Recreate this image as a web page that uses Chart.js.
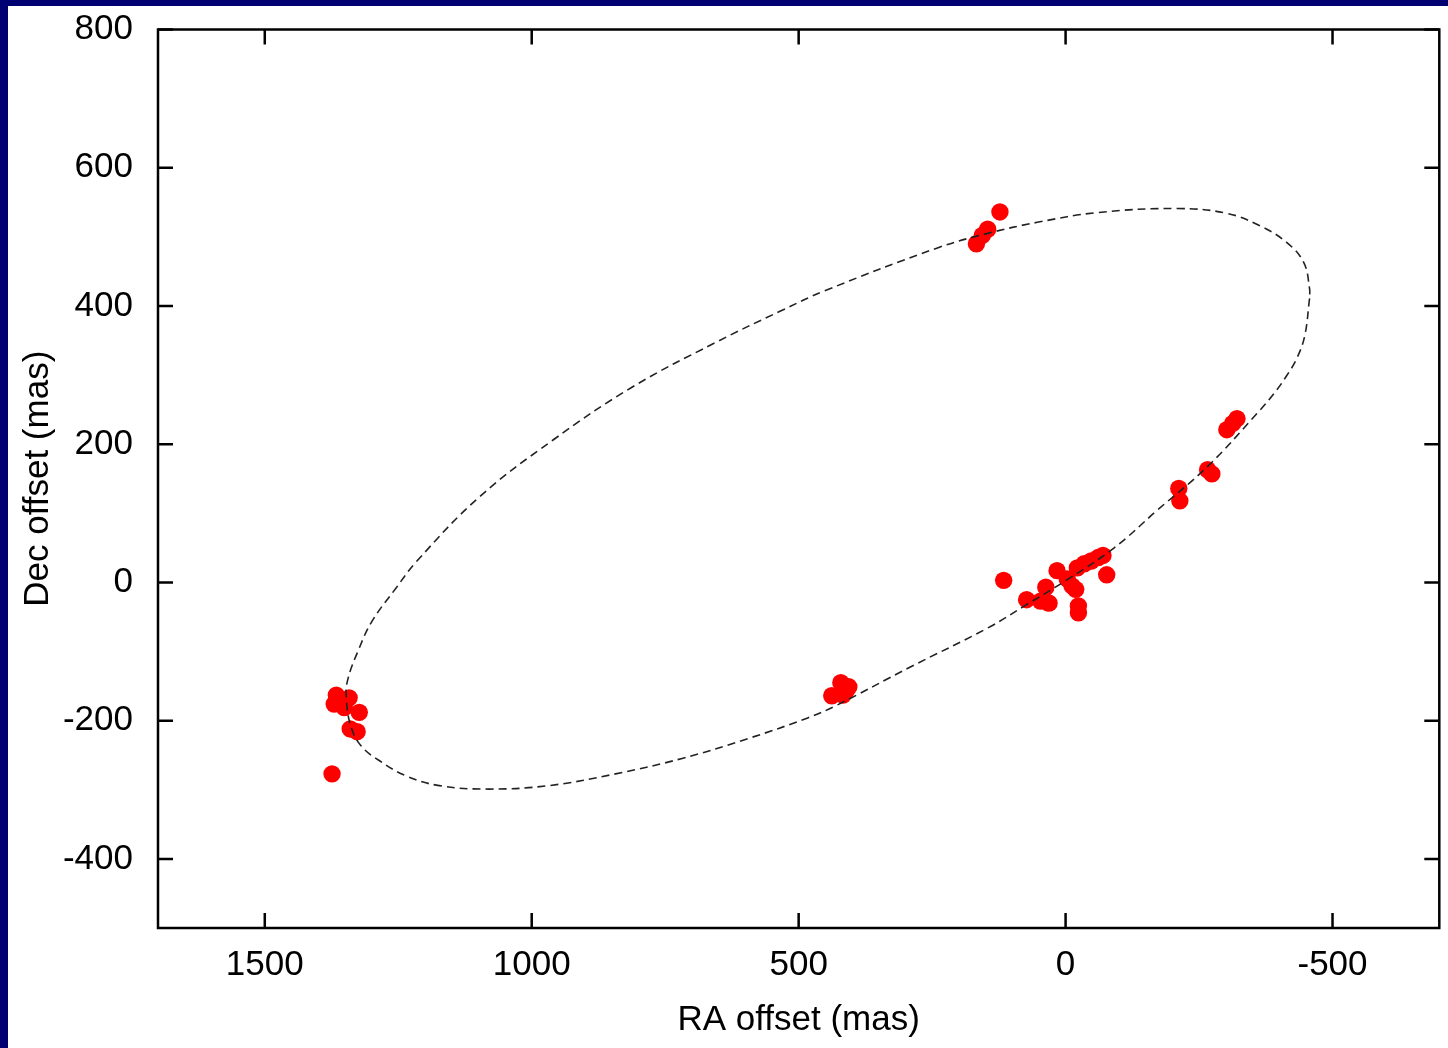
<!DOCTYPE html>
<html>
<head>
<meta charset="utf-8">
<script src="https://cdn.jsdelivr.net/npm/chart.js@4"></script>
<style>
  html, body { margin: 0; padding: 0; }
  body { width: 1448px; height: 1048px; background: #000072; position: relative; overflow: hidden; }
  #painel { position: absolute; left: 8px; top: 6px; width: 1440px; height: 1042px; background: #fff; }
</style>
</head>
<body>
<div id="painel"><canvas id="orbita" width="1440" height="1042"></canvas></div>
<script>
// measured positions (mas)
const raPontos = [123, 167, 156, 146,
  -302, -313, -321, -266, -274, -212, -214,
  116, 73, 37, 34, 47, 31, 16, -19, -24, -24, -77, -22, -35, -48, -61, -70, -3, -12,
  438, 421, 406, 417, 411,
  1370, 1366, 1342, 1351, 1323, 1327, 1340, 1374];
const decPontos = [536, 490, 502, 511,
  221, 230, 237, 163, 157, 136, 118,
  3, -25, -7, -29, -27, -30, 17, -10, -34, -44, 11, 21, 27, 31, 36, 39, 5, -5,
  -164, -145, -151, -163, -157,
  -176, -163, -167, -181, -188, -216, -212, -277];

// fitted orbit (dashed)
const orbitaRA = [-457, -448, -433, -414, -390, -358, -265, -171, -91, 1, 77, 146, 290, 432, 483, 595, 720, 843, 968, 1080,
  1173, 1235, 1285, 1319, 1338, 1347, 1345, 1323, 1299, 1254, 1215, 1099, 962, 813, 656, 533, 451, 240, 146, 53, -59,
  -209, -302, -364, -414, -446, -457, -457];
const orbitaDec = [411, 357, 324, 299, 273, 244, 167, 104, 50, 2, -34, -66, -122, -179, -196, -226, -255, -277, -294, -299,
  -294, -280, -258, -237, -210, -171, -142, -95, -56, -8, 31, 123, 205, 282, 347, 393, 422, 484, 505, 521, 535,
  541, 534, 516, 492, 463, 425, 411];

const raTicks = [1500, 1000, 500, 0, -500];
const decTicks = [800, 600, 400, 200, 0, -200, -400];

Chart.defaults.font.family = '"Liberation Sans", Arial, sans-serif';
Chart.defaults.color = '#000';

// box + inward ticks on all four sides
const moldura = {
  id: 'moldura',
  afterDatasetsDraw(chart) {
    const ctx = chart.ctx;
    const a = chart.chartArea;
    const sx = chart.scales.x, sy = chart.scales.y;
    ctx.save();
    ctx.strokeStyle = '#000';
    ctx.lineWidth = 2.5;
    ctx.beginPath();
    sx.ticks.forEach(function (t) {
      const px = sx.getPixelForValue(t.value);
      ctx.moveTo(px, a.bottom); ctx.lineTo(px, a.bottom - 15);
      ctx.moveTo(px, a.top); ctx.lineTo(px, a.top + 15);
    });
    sy.ticks.forEach(function (t) {
      const py = sy.getPixelForValue(t.value);
      ctx.moveTo(a.left, py); ctx.lineTo(a.left + 15, py);
      ctx.moveTo(a.right, py); ctx.lineTo(a.right - 15, py);
    });
    ctx.stroke();
    ctx.strokeRect(a.left, a.top, a.right - a.left, a.bottom - a.top);
    ctx.restore();
  }
};

const semVirgula = function (v) { return String(v); };

const ctx = document.getElementById('orbita').getContext('2d');
new Chart(ctx, {
  type: 'scatter',
  data: {
    datasets: [
      {
        data: orbitaRA.map(function (v, i) { return { x: v, y: orbitaDec[i] }; }),
        showLine: true,
        borderColor: '#222',
        borderWidth: 1.6,
        borderDash: [8, 5],
        tension: 0.4,
        pointRadius: 0,
        order: 0,
      },
      {
        data: raPontos.map(function (v, i) { return { x: v, y: decPontos[i] }; }),
        backgroundColor: '#ff0000',
        borderWidth: 0,
        pointRadius: 8.7,
        order: 1,
      },
    ],
  },
  options: {
    responsive: false,
    animation: false,
    layout: { padding: { top: 23.5, right: 5, left: 0, bottom: 0 } },
    plugins: { legend: { display: false }, tooltip: { enabled: false } },
    scales: {
      x: {
        type: 'linear',
        reverse: true,
        min: -700,
        max: 1700,
        afterBuildTicks: function (s) { s.ticks = raTicks.map(function (v) { return { value: v }; }); },
        afterFit: function (s) { s.height = 120; s.paddingLeft = 0; s.paddingRight = 0; },
        grid: { display: false, drawTicks: false },
        border: { display: false },
        ticks: { padding: 16, font: { size: 35 }, maxRotation: 0, autoSkip: false, callback: semVirgula },
        title: { display: true, text: 'RA offset (mas)', font: { size: 35 }, padding: { top: 0, bottom: 7 } },
      },
      y: {
        type: 'linear',
        min: -500,
        max: 800,
        afterBuildTicks: function (s) { s.ticks = decTicks.map(function (v) { return { value: v }; }); },
        afterFit: function (s) { s.width = 150; s.paddingTop = 0; s.paddingBottom = 0; },
        grid: { display: false, drawTicks: false },
        border: { display: false },
        ticks: { padding: 25, font: { size: 35 }, autoSkip: false, callback: semVirgula },
        title: { display: true, text: 'Dec offset (mas)', font: { size: 35 }, padding: { top: 9, bottom: 0 } },
      },
    },
  },
  plugins: [moldura],
});
</script>
</body>
</html>
